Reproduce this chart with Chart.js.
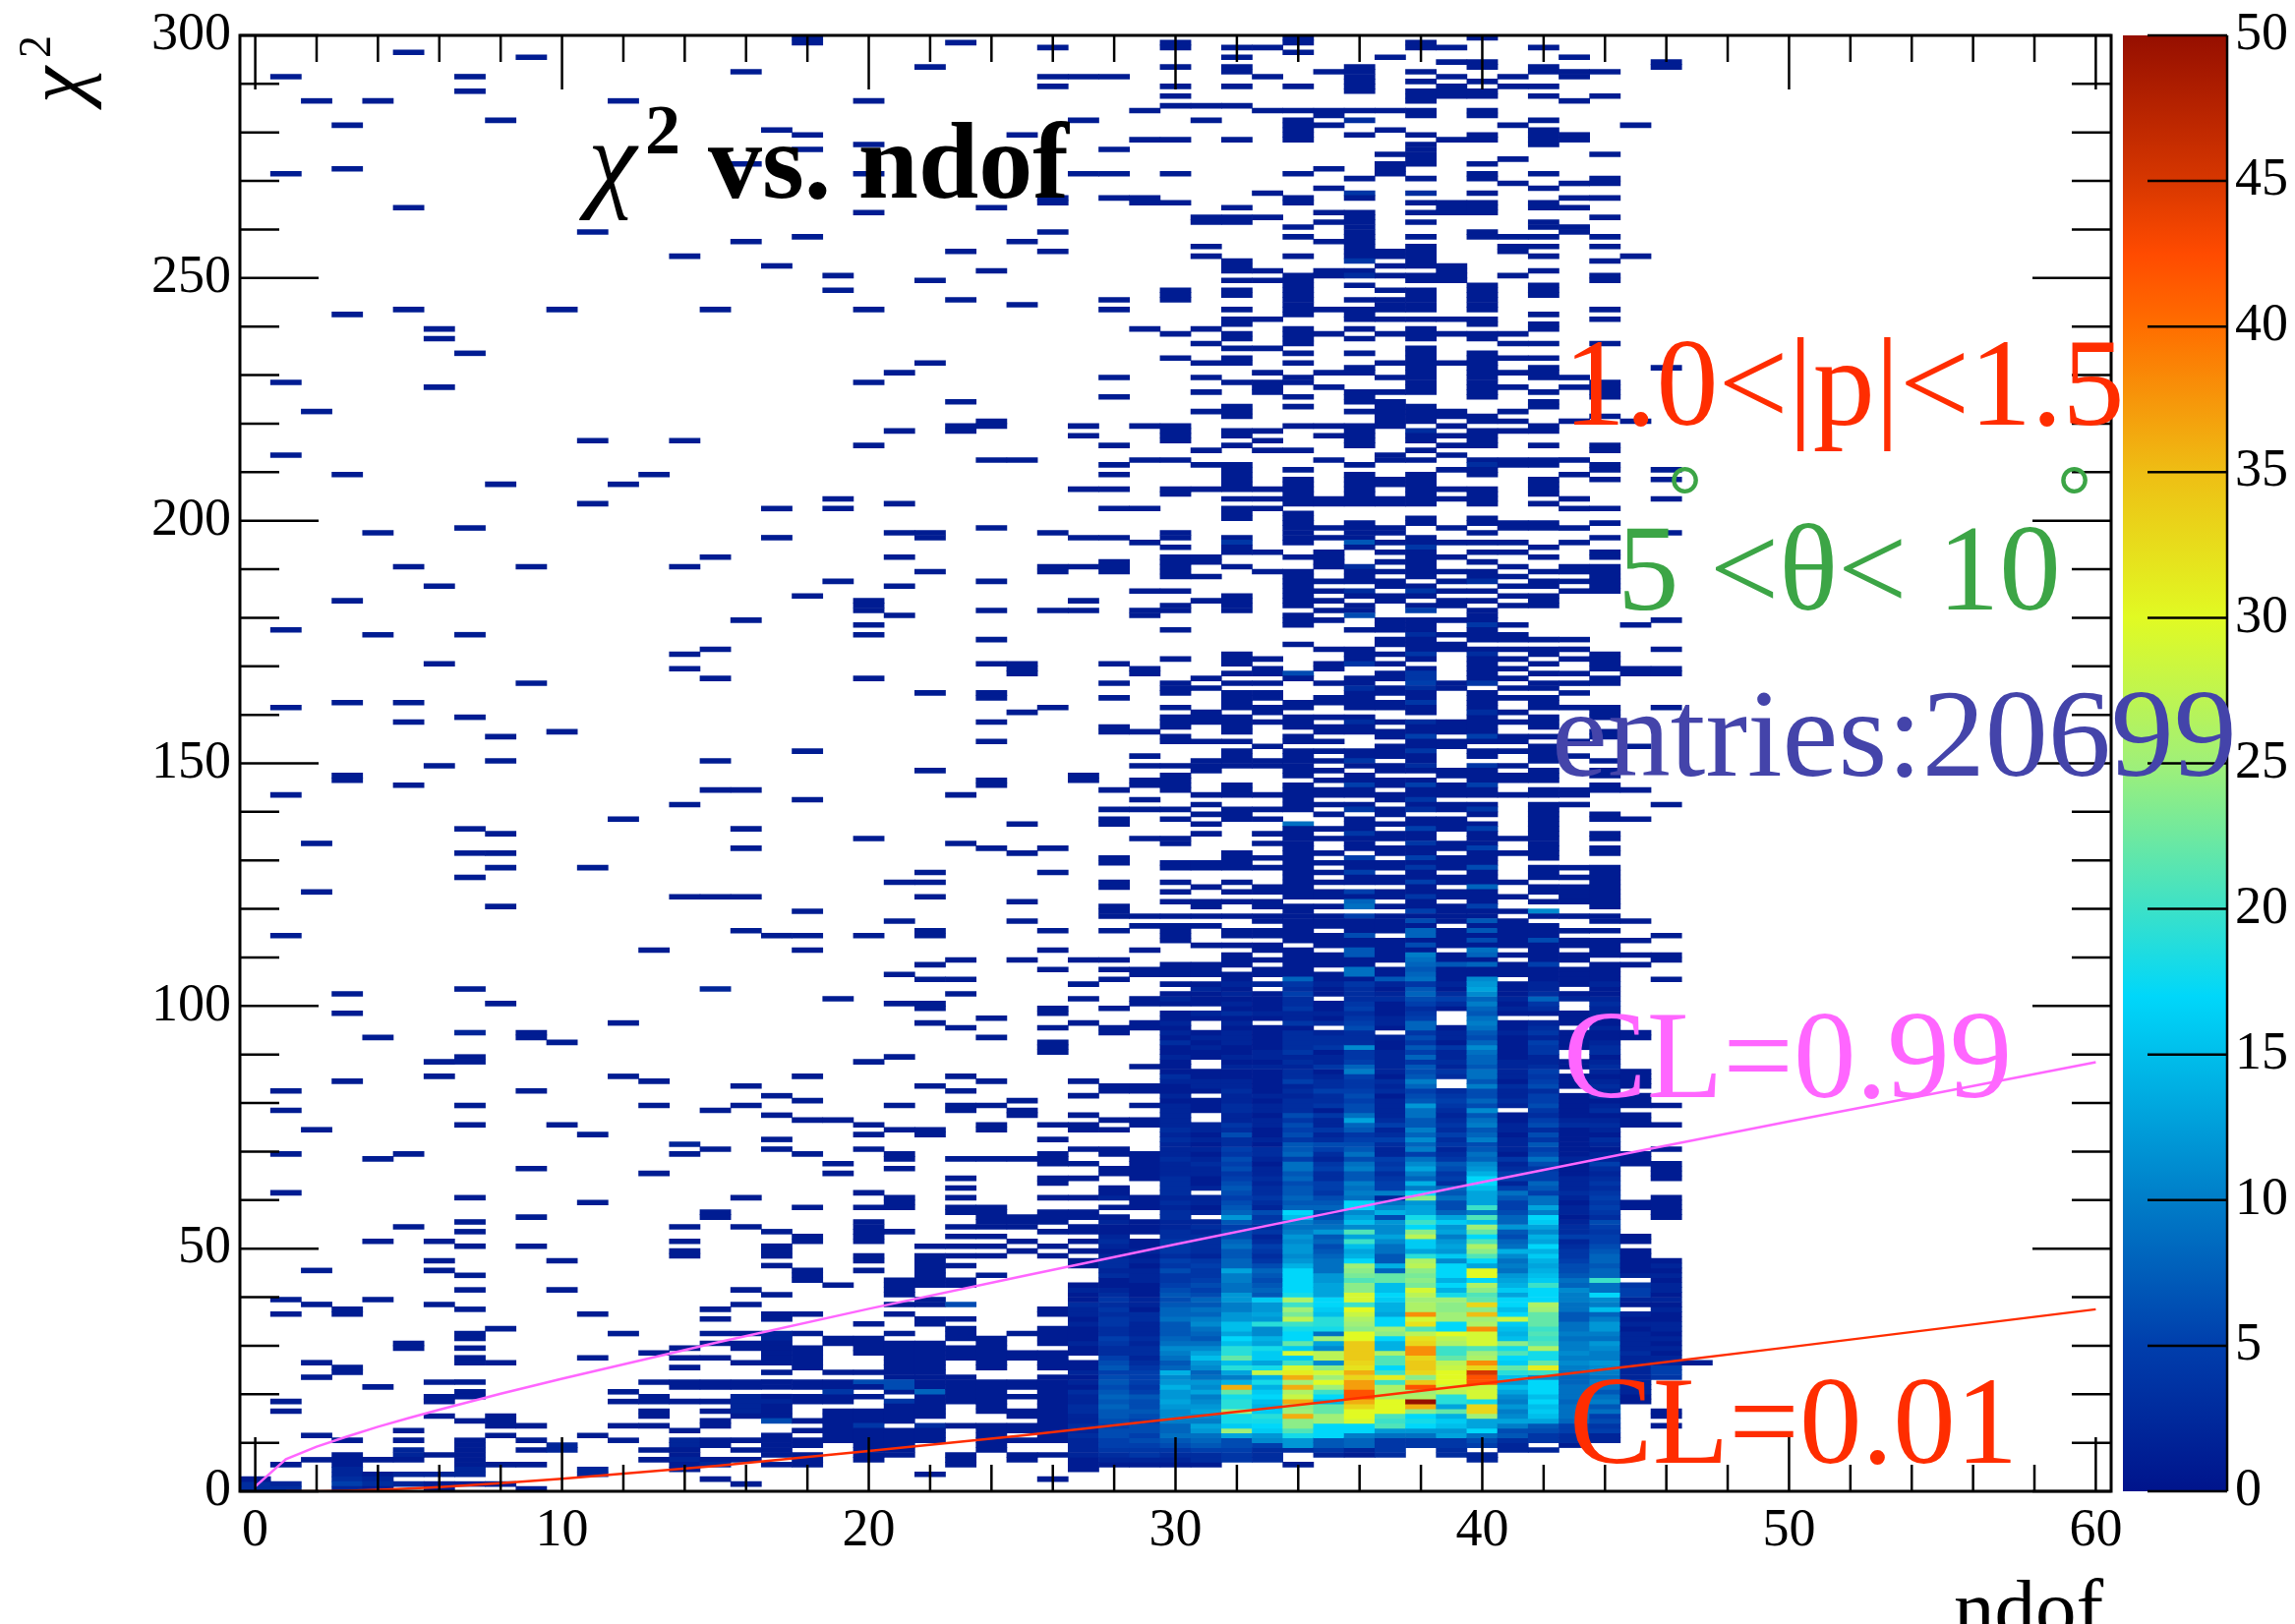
<!DOCTYPE html>
<html>
<head>
<meta charset="utf-8">
<title>chi2 vs ndof</title>
<script src="https://cdn.jsdelivr.net/npm/chart.js@4/dist/chart.umd.js"></script>
<style>
  html, body { margin: 0; padding: 0; background: #fff; overflow: hidden; }
  canvas { position: absolute; top: 0; }
</style>
</head>
<body>
<canvas id="scale" width="184" height="1652" style="left:2150px"></canvas>
<canvas id="hist" width="2334" height="1652" style="left:0"></canvas>
<script>
// chi2 bins of the sparse entries, one list per ndof column (a repeated bin counts twice)
const sparseRows = [
  [0,0,0,1,1,1,2],
  [291,271,228,213,177,161,143,114,82,78,69,61,39,36,18,16,5,1,1,0,0,0],
  [286,222,133,123,74,45,38,26,23,11,6],
  [281,272,242,209,183,162,147,146,102,98,84,37,36,25,24,10,7,6,5,4,4,3,3,2,2,2,1,1,1,1,1,0,0],
  [286,197,176,93,68,51,39,21,6,3,2,2,1,1,1,0],
  [296,264,243,190,162,158,145,69,54,30,29,12,10,8,8,7,7,6,3,3,1,1],
  [239,237,227,186,170,149,88,85,51,47,45,38,22,19,18,15,7,3,3,1,0],
  [291,288,234,198,176,159,136,131,126,103,94,94,89,88,79,75,60,55,53,50,44,41,37,32,31,29,27,26,22,20,19,14,10,9,8,7,6,5,4,4,3,3,1],
  [282,207,155,150,135,131,128,120,100,33,26,15,14,13,11,5,1],
  [295,190,166,94,93,82,66,56,50,13,10,8,5,0],
  [243,156,92,75,47,41,9,9,8,8],
  [259,216,203,128,73,59,36,27,11,4,4,3,3],
  [286,207,138,96,85,32,20,18,13,10],
  [209,111,84,79,65,28,22,19,18,16,15,13,8,6],
  [254,216,190,172,169,141,122,71,71,69,54,51,49,48,29,27,25,22,21,18,12,10,10,9,9,8,7,6,6,5,4],
  [243,192,173,167,150,144,122,103,103,78,70,57,56,37,35,32,30,27,22,21,18,16,14,13,10,9,6,5,5,2],
  [292,273,257,179,144,136,132,122,115,83,79,60,54,41,38,32,30,29,26,22,21,19,19,18,18,17,17,16,16,15,10,8,6,1],
  [280,252,202,196,114,81,77,72,70,53,50,49,48,46,40,36,35,32,32,31,31,30,29,28,27,26,24,22,21,19,18,18,17,16,15,14,14,14,11,10,9,8,7,5],
  [299,298,279,276,258,184,152,142,119,114,111,85,80,76,69,58,52,51,45,44,43,36,32,29,28,27,26,25,22,21,19,18,14,12,10,9,7,6,5],
  [250,247,204,202,187,101,76,67,65,42,31,30,24,22,21,19,18,16,15,14,13,12,11,10],
  [286,277,271,263,243,228,215,183,182,181,178,176,167,134,114,88,75,73,70,61,58,55,54,53,52,51,48,47,45,34,31,30,29,28,24,22,21,19,16,15,14,13,12,11,10,9,8,7,6],
  [230,218,203,197,192,186,180,125,117,106,100,89,79,74,69,68,66,60,59,58,53,43,42,41,40,38,36,32,30,29,28,27,26,25,24,23,20,18,17,16,15,14,12,11,10,9,8,7],
  [293,249,232,197,196,189,164,148,127,125,122,115,114,108,105,100,99,96,83,74,73,50,48,47,46,45,44,43,42,39,38,35,34,30,29,28,27,26,25,24,23,22,21,19,18,17,16,15,13,12,11,10,3],
  [298,255,245,224,219,218,143,133,109,105,102,95,85,82,79,78,68,64,62,60,58,57,54,52,50,48,46,43,42,35,33,32,31,29,28,27,23,22,21,20,19,18,13,7,6,5],
  [264,251,220,219,212,198,187,181,175,170,164,163,158,154,146,145,132,97,93,84,79,75,74,68,58,57,56,55,54,52,50,48,44,31,30,29,28,27,26,25,22,21,20,19,18,17,16,13,12,11,10,9,8],
  [279,257,244,212,170,169,168,160,137,131,121,117,109,80,78,77,68,56,55,54,51,49,32,28,27,22,21,19,16,15,13,12,10,7,6],
  [297,291,289,266,265,259,255,197,190,189,181,161,132,127,115,111,107,99,98,95,92,91,90,75,72,69,68,67,64,63,60,57,56,55,53,50,48,37,36,33,32,31,30,28,27,26,25,23,22,21,20,19,18,17,16,15,14,13,12,11,10,7,2],
  [291,282,271,219,217,206,196,190,183,181,147,146,109],
  [291,276,271,266,245,243,229,225,215,211,209,206,202,196,191,190,189,170,166,163,157,156,144,140,138,137,130,129,125,124,120,119,118,115,109,107,105],
  [284,278,266,265,239,219,212,202,195,185,181,180,169,168,156,151,149,146,145,142,140,134,118,116,111,107,106],
  [298,297,293,289,287,285,278,271,265,247,246,245,238,233,219,218,217,216,212,206,205,197,196,194,192,191,190,189,188,185,182,181,177,171,166,165,164,161,159,158,157,155,154,149,147,146,145,144,140,138,134,133,129,128,125,123,121,118,116,115,114,113,108,107,106],
  [285,282,262,261,256,254,239,236,232,229,226,222,214,211,206,192,191,188,183,167,165,160,159,158,154,150,149,148,143,141,139,137,135,129,128,124,121,120,118,116,112,108,107,106],
  [297,295,293,292,289,285,278,264,262,261,253,252,251,249,247,246,243,241,240,238,237,235,233,232,228,223,222,221,218,217,215,211,210,209,208,207,206,204,202,201,200,196,195,194,193,190,184,183,182,181,172,171,170,168,166,164,163,162,161,159,158,157,156,154,152,151,150,149,145,144,143,140,139,138,131,130,129,128,125,123,121,118,115,114,112,110,109,108,106,105],
  [297,291,284,267,262,251,249,241,235,230,228,227,226,218,216,214,206,204,202,193,189,171,169,168,166,164,163,161,160,158,153,150,149,143,140,138,135,133,130,128,124,123,121,120,118,117,115,114,112,111,109,107,106],
  [299,298,296,289,284,282,281,280,279,278,271,266,265,260,258,254,250,249,248,247,246,245,244,243,242,239,238,237,236,234,232,229,228,225,223,219,214,210,208,207,206,205,204,203,201,200,199,198,197,196,195,192,189,188,187,186,185,184,183,182,180,179,178,174,168,167,162,161,159,158,157,155,154,152,151,150,149,148,147,145,144,143,142,141,140,137,136,135,134,133,132,131,130,129,128,127,126,125,124,123,122,120,119,118,117,116,115,114,113,111,110,109,108,107,106,105],
  [292,284,283,281,272,268,263,261,257,251,250,243,238,230,227,219,217,212,204,203,198,196,193,192,191,190,187,185,183,181,179,173,170,169,166,163,162,159,157,156,154,152,150,148,146,144,143,141,139,136,134,131,129,127,125,123,122,120,118,117,116,114,113,112,110,109,108,106,105],
  [293,292,291,290,289,288,284,282,279,270,267,266,263,262,261,260,259,258,257,256,255,254,251,250,248,245,243,242,241,239,237,234,231,230,226,225,224,222,219,218,217,216,215,211,209,208,207,206,205,204,203,199,198,197,196,195,194,190,189,188,187,185,184,182,181,180,177,173,172,171,170,167,166,164,163,162,161,159,158,157,156,152,151,150,149,147,146,145,144,143,141,140,138,137,136,135,134,133,132,130,129,128,127,126,125,123,122,121,120,118,117,116,115,114,113,112,111,110,109,108,107,106,105],
  [295,284,280,275,273,272,271,255,254,252,250,247,245,244,243,241,238,232,229,226,224,223,222,221,220,219,213,212,208,207,204,203,198,197,195,193,191,189,187,186,184,183,179,178,177,175,174,172,170,168,167,165,164,162,161,158,156,155,153,152,151,149,148,146,145,143,142,140,139,137,135,134,132,131,129,128,126,125,123,122,120,118,117,116,115,113,112,111,110,109,107,106,105],
  [298,297,292,290,288,287,286,284,283,279,277,276,275,274,273,270,267,265,263,261,258,256,255,254,253,252,250,249,247,246,245,244,243,241,239,238,237,235,234,233,232,231,230,229,228,227,226,223,222,221,220,218,217,216,214,212,209,208,207,206,205,204,203,200,199,196,195,194,193,192,191,190,189,188,186,185,184,182,181,179,178,177,176,175,174,173,172,171,169,168,167,166,165,164,163,162,161,160,158,157,156,155,154,153,152,151,150,149,148,146,145,144,143,142,141,140,138,137,136,135,134,133,132,131,130,129,128,127,126,125,124,123,122,121,120,119,118,117,116,115,114,113,112,111,110,109,108,107,106,105],
  [297,294,291,289,288,287,278,265,264,263,252,251,250,249,241,238,232,222,221,219,217,215,213,210,206,204,198,195,192,189,187,185,183,182,179,176,174,173,166,165,158,157,156,154,153,148,147,145,144,143,141,140,138,137,136,133,132,130,129,128,126,125,123,122,120,119,118,117,115,114,113,112,110,109,108,107,106,105],
  [299,294,293,290,288,287,284,283,279,278,273,271,270,267,265,264,263,259,258,248,247,246,245,244,243,241,240,238,237,234,233,232,231,230,229,228,227,226,225,221,220,218,217,216,215,212,211,210,209,206,205,204,203,200,199,197,195,193,191,189,188,187,185,183,181,180,179,178,177,176,175,173,172,171,170,169,168,167,166,164,163,162,161,159,158,157,156,155,154,152,151,149,148,147,146,145,144,143,141,140,139,137,136,135,134,133,132,131,130,129,128,127,126,125,124,123,122,121,120,119,118,117,116,115,114,113,112,111,110,109,108,107,106,105],
  [291,289,281,274,269,258,256,255,250,238,236,233,230,227,222,220,218,212,211,199,198,195,193,190,188,186,184,182,178,176,175,173,171,169,167,165,163,160,158,155,154,152,149,147,146,143,134,131,125,122,119,117,116,115,114,113,112,110,108,107,106],
  [297,293,292,289,287,282,280,279,278,277,271,268,265,264,261,260,258,256,254,251,248,247,246,242,240,239,236,233,231,230,229,226,224,223,219,218,215,212,211,208,207,206,205,203,199,198,194,192,189,187,186,184,183,182,175,173,172,170,168,166,165,163,162,161,159,158,157,155,153,152,151,150,148,147,146,144,143,141,140,139,138,137,136,135,134,133,132,131,130,128,127,126,124,123,121,119,118,116,115,114,113,112,111,110,109,108,107,106,105],
  [295,292,291,286,279,278,269,266,264,260,259,229,227,220,212,209,204,202,198,195,190,189,187,185,175,173,171,168,166,164,161,154,151,144,143,141,128,126,124,123,122,121,118,115,113,112,110,109,107,106,105],
  [292,287,275,270,269,266,262,258,256,253,250,249,243,241,236,228,227,226,225,221,215,214,211,210,208,202,199,196,193,192,190,189,188,187,186,185,172,171,170,169,167,166,161,160,159,156,155,150,148,147,145,144,139,138,135,134,132,131,128,127,126,125,124,123,122,121,120,118,117,115,113,112,111,110,108,107,106,105],
  [281,254,220,178,169,168,153,144,138,117,113,110,108],
  [294,293,231,210,208,204,197,179,173,169,168,161,141,114,110,109,105],
  [26]
];

// counts per chi2 bin, starting at bin 0, for the dense low part of ndof 27 to 46
const lowFirstNdof = 27;
const lowCounts = [
  [0,0,0,0,1,1,1,2,2,2,2,3,2,3,2,2,3,3,2,2,3,1,2,1,2,1,1,0,1,1,2,1,1,1,2,1,2,2,3,1,1,2,1,0,0,0,1,1,0,1,0,1,0,1,1,0,1,1,0,0,1,0,0,0,1,0,0,1,0,0,1,0,0,0,1,1,0,1,0,0,0,1,0,0,1,0,0,0,0,0,0,0,0,0,0,0,1,0,0,0,0,1,0,0,1],
  [0,0,0,0,0,1,2,3,4,5,5,6,6,5,6,7,7,8,7,8,7,6,7,6,5,7,6,5,3,3,4,5,3,3,4,4,3,4,3,4,3,2,1,1,3,2,3,3,2,1,2,3,2,1,1,2,1,0,1,0,2,1,1,0,0,1,1,0,0,1,1,0,0,0,1,0,1,0,0,0,0,0,1,1,0,0,0,0,0,0,0,0,0,0,1,1,0,0,0,1,0,0,0,0,0],
  [0,0,0,0,0,1,2,4,4,5,6,5,6,6,5,6,7,6,6,7,5,4,5,5,5,4,3,2,3,3,2,3,2,2,2,3,3,1,2,2,1,1,1,2,2,2,1,2,1,2,1,1,0,1,1,1,0,0,1,1,1,0,0,0,1,1,1,1,1,1,0,0,0,0,0,1,1,0,0,1,0,0,1,1,0,0,0,1,0,0,0,0,0,0,0,1,1,0,0,0,1,1,0,0,0],
  [0,0,0,0,0,1,2,3,4,6,7,9,8,8,10,11,11,12,13,12,12,14,12,11,14,8,7,9,10,11,9,8,7,7,7,9,8,8,7,6,7,6,5,4,4,6,4,5,3,4,4,4,3,3,2,2,3,3,2,3,2,3,3,3,3,2,2,2,3,2,2,2,3,2,3,2,2,2,2,2,1,2,1,1,2,3,1,1,1,2,1,1,3,1,2,1,2,1,1,0,1,2,1,0,1],
  [0,0,0,0,0,1,3,3,5,7,8,9,12,13,10,11,13,12,11,10,13,11,12,9,8,11,12,15,13,11,9,7,8,9,11,10,8,9,7,8,6,5,6,5,4,4,5,4,2,3,3,3,3,2,3,2,0,2,1,2,2,0,2,1,1,2,2,3,2,1,2,1,2,1,2,2,0,0,1,1,1,0,1,2,2,1,1,0,0,1,1,2,1,2,1,0,0,1,2,0,1,1,1,2,1],
  [0,0,0,0,0,0,4,4,5,6,6,13,25,16,18,18,25,19,19,18,22,36,14,10,13,19,15,22,19,19,15,17,13,15,15,12,12,10,10,12,12,9,9,10,10,13,8,8,7,7,9,8,6,6,5,7,12,8,7,6,5,6,7,6,5,4,6,5,6,4,5,3,3,6,3,4,2,2,3,3,2,2,3,2,2,1,1,2,1,2,1,1,2,2,2,1,2,1,3,1,2,1,2,1,2],
  [0,0,0,0,0,0,3,3,3,5,11,12,16,17,18,19,16,14,15,17,16,14,18,14,28,18,13,16,16,18,13,14,11,11,19,12,13,12,12,16,7,8,7,6,7,8,6,4,3,4,5,3,2,4,3,5,4,6,2,3,4,3,3,2,3,2,2,1,2,3,3,1,2,1,1,2,2,1,2,2,1,2,1,1,1,1,1,2,1,2,2,1,1,1,1,1,0,1,2,1,1,1,1,0,2],
  [0,0,0,0,0,1,0,0,3,12,12,18,21,24,24,36,25,24,36,28,26,36,25,36,31,29,20,16,29,16,22,17,17,18,20,27,23,25,20,26,18,17,17,17,17,17,14,12,11,12,12,11,12,10,9,10,15,17,8,7,8,7,7,6,8,7,9,9,5,8,7,7,4,6,5,6,4,6,3,3,3,2,3,2,5,3,3,2,3,2,4,3,3,3,3,1,4,2,2,4,3,3,5,3,4],
  [0,0,0,0,0,0,0,2,4,7,7,17,17,17,25,25,22,22,14,17,20,25,30,25,29,24,11,27,27,11,13,25,9,18,19,19,15,16,17,17,13,13,13,12,12,9,9,9,8,7,6,8,7,12,9,8,6,5,8,7,6,4,5,5,3,3,5,4,2,3,5,6,3,2,4,2,2,4,1,4,3,3,5,3,3,2,1,4,2,2,1,4,3,3,2,0,3,1,2,1,1,0,1,1,2],
  [0,0,0,0,0,0,0,1,2,8,8,10,17,17,29,30,30,33,36,42,42,37,37,33,36,32,33,34,34,34,34,30,30,24,25,26,28,30,20,29,29,24,24,21,23,24,25,17,14,13,15,20,13,21,11,15,13,11,17,17,9,10,9,10,7,7,10,9,6,9,7,6,5,4,7,8,13,9,6,6,5,6,5,4,4,5,10,8,5,4,4,11,3,3,3,6,5,4,3,5,4,3,3,3,4],
  [0,0,0,0,0,0,0,3,4,4,4,9,12,21,20,21,30,30,30,26,26,26,20,31,20,17,21,21,26,14,14,17,24,25,17,17,13,14,14,16,17,15,15,22,22,8,14,7,7,9,9,11,13,11,11,12,6,14,11,9,2,10,5,5,4,3,5,4,5,2,2,3,5,3,2,5,3,2,2,2,2,1,3,2,3,1,2,2,2,2,2,1,1,2,0,1,2,2,1,1,1,3,2,1,2],
  [0,0,0,0,0,0,0,0,0,4,4,9,12,17,18,17,24,36,50,26,25,42,34,24,33,34,34,33,38,38,33,32,27,21,32,29,38,26,26,25,27,29,23,24,23,24,27,26,19,13,16,16,27,24,17,20,18,13,13,12,24,17,10,14,8,10,13,11,9,5,10,8,11,8,10,7,7,9,9,12,7,6,5,8,10,7,6,7,4,8,5,7,4,6,4,8,8,5,4,3,5,6,8,7,4],
  [0,0,0,0,0,0,0,3,3,4,4,13,12,15,16,14,22,13,19,19,27,28,30,30,30,28,27,22,20,20,26,27,30,17,17,25,25,24,24,25,18,14,17,14,17,17,17,11,16,12,13,12,10,13,12,16,13,8,6,6,9,7,8,3,5,4,6,7,4,3,2,4,3,5,3,4,3,2,3,4,5,4,3,0,0,3,4,2,3,2,2,4,1,2,2,1,0,0,0,1,3,5,3,1,2],
  [0,0,0,0,0,0,2,2,0,5,6,9,17,13,13,25,33,33,18,29,29,28,42,42,45,33,38,26,25,21,29,29,29,38,26,25,35,24,33,22,21,24,26,17,30,30,13,17,21,24,26,21,17,22,25,15,21,10,20,13,13,13,15,17,17,14,12,11,8,9,7,6,10,8,7,10,9,7,11,6,8,6,6,10,7,9,9,7,8,8,9,11,8,6,7,9,10,9,7,8,10,8,11,13,12],
  [0,0,0,0,0,0,0,0,2,2,3,7,6,10,13,11,10,12,10,11,13,15,12,15,19,22,16,17,21,18,24,15,14,15,16,28,17,15,17,17,13,16,14,13,12,9,10,9,11,14,9,8,6,7,12,8,8,6,5,5,7,9,5,2,5,5,3,2,4,1,2,2,2,1,2,2,1,1,0,2,3,2,2,3,1,2,2,2,2,1,1,1,1,1,2,1,1,0,1,2,1,2,1,1,1],
  [0,0,0,0,0,0,0,0,2,0,4,4,6,7,13,15,16,15,17,15,17,17,17,11,20,31,22,18,18,26,21,20,21,20,22,22,22,25,26,17,17,17,20,16,15,14,13,14,16,14,17,13,14,11,13,16,17,10,13,9,9,5,7,8,5,5,4,6,9,6,5,7,4,6,3,6,5,3,4,6,5,5,3,6,5,4,5,3,2,2,4,4,5,2,4,3,2,0,1,3,4,8,3,2,2],
  [0,0,0,0,0,0,0,0,0,1,3,3,5,5,8,9,9,9,8,9,9,9,8,8,9,10,11,10,11,10,10,9,10,9,9,7,7,9,9,10,10,11,8,9,7,6,6,5,4,4,3,2,5,3,3,2,1,2,2,1,2,3,2,2,2,1,1,1,2,1,1,1,1,1,1,3,2,1,1,1,1,1,0,1,1,1,0,1,1,0,0,1,1,1,1,0,1,1,1,0,0,2,1,0,1],
  [0,0,0,0,0,0,0,0,0,0,2,2,5,4,6,5,9,7,10,9,7,9,10,9,10,11,12,10,10,11,12,9,10,12,12,10,8,15,10,11,17,9,9,20,8,8,7,8,8,7,6,5,5,4,5,6,3,4,5,4,5,4,3,4,3,2,3,5,2,2,1,2,3,1,2,3,2,1,3,2,1,3,2,3,2,1,2,3,2,1,3,3,2,1,1,2,1,1,2,2,3,2,1,1,2],
  [0,0,0,0,0,0,0,0,0,0,0,0,0,0,0,0,0,0,1,1,2,2,2,2,2,2,2,2,3,2,2,2,2,1,2,1,2,0,1,2,5,5,4,0,2,1,1,1,1,1,0,1,1,0,0,0,0,0,1,1,0,0,0,0,0,0,0,1,1,1,0,0,0,0,0,1,1,1,0,1,1,1,0,1,1,1,1,0,0,0,0,0,0,1,1],
  [0,0,0,0,0,0,0,0,0,0,0,0,0,1,0,1,1,0,0,0,0,0,0,4,5,5,2,2,1,2,1,2,1,2,2,1,1,2,1,2,1,2,2,1,2,1,2,1,0,0,0,0,0,0,0,0,1,1,1,1,1,0,0,0,1,1,1,1,0,0,1,0,0,0,0,1,0,0,0,1]
];

// brighter single cells of the sparse part: ndof, chi2 bin, count
const brightCells = [
  [36,282,3],[36,267,4],[36,253,4],[36,250,3],[38,218,3],[38,267,3],[40,211,3],[32,195,4],[36,195,7],[38,194,4],
  [34,168,6],[38,181,5],[36,180,6],[38,167,4],[38,166,5],[34,137,9],[42,119,11],[36,121,8],[36,120,9],[40,124,8],
  [38,115,8],[38,114,8],[38,110,10],[38,109,9],[38,108,8],[38,107,7],[38,106,8],[36,107,9],[36,106,9],[36,111,7],[36,110,7],[40,111,9],[40,110,8],[40,108,8],[40,105,11],
  [37,105,7],[38,105,9],[34,105,8],[42,113,6],[42,108,5],[39,108,7],[40,117,7],[40,115,7],
  [38,185,4],[38,176,3],[38,172,4],[38,168,4],[38,165,3],[38,162,4],[38,158,3],[38,155,5],[38,152,4],[38,149,3],[38,145,5],[38,142,4],[38,140,3],[38,136,5],[38,133,4],[38,130,5],[38,128,4],[38,125,5],[38,122,4],[38,119,5],[38,117,6],[38,112,6],
  [40,187,3],[40,178,4],[40,172,3],[40,166,4],[40,160,3],[40,155,5],[40,149,4],[40,145,5],[40,140,4],[40,136,5],[40,132,5],[40,128,6],[40,120,5],[40,113,6],
  [36,190,3],[36,185,3],[36,170,4],[36,165,3],[36,158,3],[36,150,4],[36,145,5],[36,140,4],[36,135,4],[36,130,5],[36,127,5],[36,123,5],[36,118,5],[36,114,6],
  [20,22,6],[21,22,6],[21,21,6],[22,20,8],[23,38,6],[17,14,6],[19,20,4],[21,18,4],[20,13,4],[22,13,3]
];

// confidence level curves
const clNdof = [0,1,2,3,4,5,6,8,10,15,20,25,30,35,40,45,50,55,60];
const cl99Chi2 = [1,6.6,9.2,11.3,13.3,15.1,16.8,20.1,23.2,30.6,37.6,44.3,50.9,57.3,63.7,70,76.2,82.3,88.4];
const clNdofLow = [1,2,3,4,5,6,8,10,15,20,25,30,35,40,45,50,55,60];
const cl01Chi2 = [0,0.02,0.11,0.3,0.55,0.87,1.65,2.56,5.2,8.3,11.5,15,18.5,22.2,25.9,29.7,33.6,37.5];

// palette of the colour scale
const paletteLevels = [0,5,10,15,17,20,25,30,35,40,42.5,45,50];
const paletteColors = [
  [0,20,140],[0,62,172],[0,125,200],[0,190,235],[0,215,250],[60,225,200],[160,240,120],
  [225,250,35],[238,190,20],[255,110,0],[255,75,0],[215,55,0],[150,15,0]
];

const xTickLabels = [0,10,20,30,40,50,60];
const xMinorTicks = [2,4,6,8,12,14,16,18,22,24,26,28,32,34,36,38,42,44,46,48,52,54,56,58];
const yTickLabels = [0,50,100,150,200,250,300];
const yMinorTicks = [10,20,30,40,60,70,80,90,110,120,130,140,160,170,180,190,210,220,230,240,260,270,280,290];
const scaleTickLabels = [0,5,10,15,20,25,30,35,40,45,50];

const serif = '"Liberation Serif", "Times New Roman", serif';

function countColor(n) {
  let i = 0;
  while (i < paletteLevels.length - 2 && n > paletteLevels[i + 1]) i++;
  const f = (n - paletteLevels[i]) / (paletteLevels[i + 1] - paletteLevels[i]);
  const a = paletteColors[i], b = paletteColors[i + 1];
  return `rgb(${Math.round(a[0] + (b[0] - a[0]) * f)},${Math.round(a[1] + (b[1] - a[1]) * f)},${Math.round(a[2] + (b[2] - a[2]) * f)})`;
}

function buildCells() {
  const cells = [];
  sparseRows.forEach((rows, ndof) => {
    const counts = new Map();
    rows.forEach(bin => counts.set(bin, (counts.get(bin) || 0) + 1));
    const low = lowCounts[ndof - lowFirstNdof];
    if (low) low.forEach((n, bin) => { if (n > 0) counts.set(bin, (counts.get(bin) || 0) + n); });
    brightCells.filter(c => c[0] === ndof).forEach(c => counts.set(c[1], c[2]));
    counts.forEach((n, bin) => cells.push({ x: ndof, y: [bin, bin + 1], n: n }));
  });
  return cells;
}

const cells = buildCells();

// frame, inside ticks and the texts written on the plot
const rootFrame = {
  id: 'rootFrame',
  afterDatasetsDraw(chart) {
    const { ctx, chartArea: a, scales: { x, y } } = chart;
    ctx.save();
    ctx.strokeStyle = '#000';
    ctx.lineWidth = 2.5;
    const seg = (x0, y0, x1, y1) => { ctx.beginPath(); ctx.moveTo(x0, y0); ctx.lineTo(x1, y1); ctx.stroke(); };
    const xTick = (v, len) => { const p = x.getPixelForValue(v); seg(p, a.bottom, p, a.bottom - len); seg(p, a.top, p, a.top + len); };
    const yTick = (v, len) => { const p = y.getPixelForValue(v); seg(a.left, p, a.left + len, p); seg(a.right, p, a.right - len, p); };
    xTickLabels.forEach(v => xTick(v, 55));
    xMinorTicks.forEach(v => xTick(v, 27));
    yTickLabels.forEach(v => yTick(v, 80));
    yMinorTicks.forEach(v => yTick(v, 40));
    ctx.lineWidth = 3;
    ctx.strokeRect(a.left, a.top, a.right - a.left, a.bottom - a.top);

    const text = (s, px, py, font, color) => { ctx.font = font + ' ' + serif; ctx.fillStyle = color; ctx.fillText(s, px, py); };
    ctx.textBaseline = 'alphabetic';
    ctx.textAlign = 'left';
    text('χ', 598, 200, 'italic 112px', '#000');
    text('2', 656, 156, 'bold 72px', '#000');
    text('vs. ndof', 720, 201, 'bold 110px', '#000');
    text('1.0<|p|<1.5', 1590, 432, '126px', '#ff2d00');
    text('5 <θ< 10', 1645, 620, '125px', '#3ca546');
    text('°', 1696, 534, '88px', '#3ca546');
    text('°', 2092, 534, '88px', '#3ca546');
    text('entries:20699', 1578, 789, '128px', '#4444aa');
    text('CL=0.99', 1590, 1116, '127px', '#ff66ff');
    text('CL=0.01', 1596, 1488, '127px', '#ff2d00');
    text('ndof', 1987, 1664, '83px', '#000');

    ctx.translate(85, 105);
    ctx.rotate(-Math.PI / 2);
    text('χ', 0, 0, 'italic 84px', '#000');
    text('2', 46, -34, '46px', '#000');
    ctx.restore();
  }
};

const histChart = new Chart(document.getElementById('hist'), {
  type: 'bar',
  data: {
    datasets: [
      {
        label: 'CL=0.99', type: 'line', order: 1,
        data: clNdof.map((v, i) => ({ x: v, y: cl99Chi2[i] })),
        borderColor: '#ff66ff', borderWidth: 2.5, pointRadius: 0, tension: 0, fill: false
      },
      {
        label: 'CL=0.01', type: 'line', order: 1,
        data: clNdofLow.map((v, i) => ({ x: v, y: cl01Chi2[i] })),
        borderColor: '#ff2d00', borderWidth: 2.5, pointRadius: 0, tension: 0, fill: false
      },
      {
        label: 'entries', order: 2,
        data: cells,
        backgroundColor: cells.map(c => countColor(c.n)),
        borderWidth: 0, barPercentage: 1, categoryPercentage: 1, grouped: false
      }
    ]
  },
  options: {
    responsive: false,
    animation: false,
    devicePixelRatio: 1,
    layout: { padding: { top: 36, right: 187, left: 0, bottom: 0 } },
    plugins: { legend: { display: false }, tooltip: { enabled: false } },
    scales: {
      x: {
        type: 'linear', offset: false, min: -0.5, max: 60.5,
        grid: { display: false, drawTicks: false }, border: { display: false },
        afterBuildTicks: s => { s.ticks = xTickLabels.map(v => ({ value: v })); },
        afterFit: s => { s.height = 135; },
        ticks: { color: '#000', padding: 8, maxRotation: 0, autoSkip: false, font: { family: serif, size: 54 } }
      },
      y: {
        type: 'linear', min: 0, max: 300,
        grid: { display: false, drawTicks: false }, border: { display: false },
        afterBuildTicks: s => { s.ticks = yTickLabels.map(v => ({ value: v })); },
        afterFit: s => { s.width = 244; },
        ticks: { color: '#000', padding: 9, autoSkip: false, font: { family: serif, size: 54, lineHeight: 1 } }
      }
    }
  },
  plugins: [rootFrame]
});

// colour scale: one floating bar from 0 to 50 filled with the palette
function scaleGradient(context) {
  const chart = context.chart;
  if (!chart.chartArea) return paletteColors[0];
  const y = chart.scales.y;
  const g = chart.ctx.createLinearGradient(0, y.getPixelForValue(0), 0, y.getPixelForValue(50));
  paletteLevels.forEach((v, i) => g.addColorStop(v / 50, `rgb(${paletteColors[i].join(',')})`));
  return g;
}

const scaleFrame = {
  id: 'scaleFrame',
  afterDatasetsDraw(chart) {
    const { ctx, chartArea: a, scales: { y } } = chart;
    ctx.save();
    ctx.strokeStyle = '#000';
    ctx.lineWidth = 2.5;
    scaleTickLabels.forEach(v => {
      const p = y.getPixelForValue(v);
      ctx.beginPath(); ctx.moveTo(a.right, p); ctx.lineTo(a.right - 81, p); ctx.stroke();
    });
    ctx.beginPath(); ctx.moveTo(a.right, a.top); ctx.lineTo(a.right, a.bottom); ctx.stroke();
    ctx.restore();
  }
};

const scaleChart = new Chart(document.getElementById('scale'), {
  type: 'bar',
  data: {
    labels: [''],
    datasets: [{
      data: [[0, 50]],
      backgroundColor: scaleGradient,
      borderWidth: 0, barPercentage: 1, categoryPercentage: 1
    }]
  },
  options: {
    responsive: false,
    animation: false,
    devicePixelRatio: 1,
    layout: { padding: { top: 36, bottom: 135, left: 9, right: 0 } },
    plugins: { legend: { display: false }, tooltip: { enabled: false } },
    scales: {
      x: { type: 'category', offset: true, display: false },
      y: {
        type: 'linear', position: 'right', min: 0, max: 50,
        grid: { display: false, drawTicks: false }, border: { display: false },
        afterBuildTicks: s => { s.ticks = scaleTickLabels.map(v => ({ value: v })); },
        afterFit: s => { s.width = 69; },
        ticks: { color: '#000', padding: 8, autoSkip: false, font: { family: serif, size: 54, lineHeight: 1 } }
      }
    }
  },
  plugins: [scaleFrame]
});
</script>
</body>
</html>
